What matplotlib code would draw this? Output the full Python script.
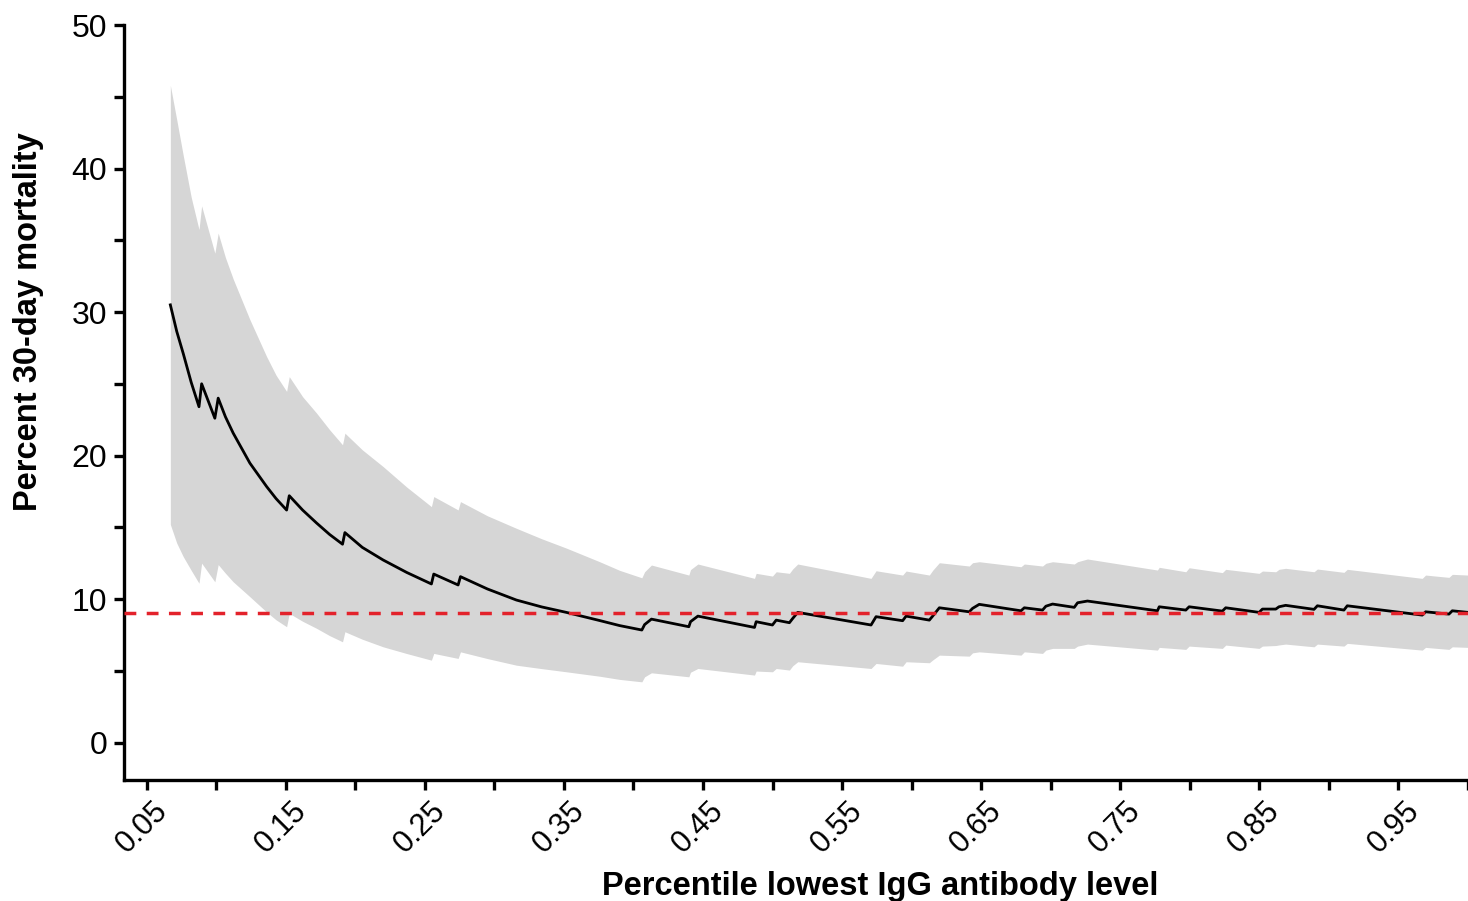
import matplotlib
matplotlib.use('Agg')
import matplotlib.pyplot as plt
import matplotlib.transforms as mtransforms
from matplotlib.ticker import FixedLocator


# ─── Data ─────────────────────────────────────────────────────────────────────
# Cumulative 30-day mortality (%) among patients below a given IgG percentile,
# with the 95% confidence band. Each upward step is a new death entering the group.

pct = [
    0.067, 0.0716, 0.0763, 0.082, 0.0876, 0.0895, 0.099, 0.1014, 0.1066, 0.1122,
    0.1242, 0.1362, 0.143, 0.1506, 0.1525, 0.1621, 0.1721, 0.1815, 0.1908, 0.1925,
    0.205, 0.22, 0.237, 0.2547, 0.2564, 0.2739, 0.2756, 0.295, 0.3158, 0.334,
    0.3517, 0.3757, 0.39, 0.406, 0.408, 0.4129, 0.4398, 0.441, 0.4463, 0.487,
    0.4882, 0.4999, 0.5026, 0.5121, 0.5145, 0.5181, 0.5708, 0.5744, 0.5935, 0.596,
    0.6127, 0.6151, 0.6199, 0.6414, 0.6438, 0.6486, 0.6786, 0.681, 0.6941, 0.6965,
    0.7013, 0.7169, 0.7193, 0.7264, 0.7767, 0.778, 0.7971, 0.7995, 0.8234, 0.8258,
    0.8498, 0.8522, 0.8618, 0.8641, 0.8689, 0.8893, 0.8917, 0.9108, 0.9132, 0.9671,
    0.9695, 0.9863, 0.9887, 1.0,
]

mortality = [
    30.5, 28.65, 27.1, 25.1, 23.4, 25.0, 22.6, 24.0, 22.7, 21.56,
    19.47, 17.84, 17.0, 16.2, 17.2, 16.2, 15.3, 14.5, 13.82, 14.63,
    13.6, 12.72, 11.85, 11.05, 11.74, 10.98, 11.56, 10.7, 9.93, 9.45,
    9.07, 8.5, 8.15, 7.84, 8.22, 8.6, 8.07, 8.42, 8.81, 8.02,
    8.42, 8.19, 8.53, 8.35, 8.65, 9.07, 8.19, 8.77, 8.49, 8.81,
    8.53, 8.81, 9.39, 9.11, 9.35, 9.63, 9.18, 9.39, 9.23, 9.5,
    9.65, 9.42, 9.74, 9.86, 9.18, 9.46, 9.23, 9.46, 9.16, 9.39,
    9.07, 9.3, 9.3, 9.46, 9.56, 9.28, 9.53, 9.23, 9.53, 8.88,
    9.11, 8.95, 9.18, 9.07,
]

ci_low = [
    15.2, 13.9, 12.95, 12.0, 11.1, 12.5, 11.2, 12.4, 11.8, 11.2,
    10.16, 9.1, 8.55, 8.07, 9.0, 8.45, 7.96, 7.45, 7.02, 7.72,
    7.2, 6.67, 6.2, 5.74, 6.21, 5.86, 6.32, 5.85, 5.39, 5.15,
    4.93, 4.62, 4.4, 4.23, 4.58, 4.86, 4.58, 4.9, 5.16, 4.7,
    4.98, 4.93, 5.16, 5.05, 5.35, 5.63, 5.16, 5.51, 5.32, 5.63,
    5.56, 5.75, 6.09, 6.02, 6.25, 6.32, 6.09, 6.32, 6.21, 6.44,
    6.56, 6.56, 6.72, 6.86, 6.44, 6.63, 6.49, 6.72, 6.56, 6.79,
    6.56, 6.72, 6.76, 6.8, 6.86, 6.67, 6.86, 6.72, 6.91, 6.44,
    6.63, 6.49, 6.67, 6.63,
]

ci_high = [
    45.8, 43.4, 40.9, 38.0, 35.75, 37.4, 34.1, 35.5, 33.8, 32.3,
    29.47, 26.9, 25.6, 24.47, 25.5, 24.1, 22.96, 21.8, 20.75, 21.56,
    20.4, 19.23, 17.8, 16.44, 17.14, 16.21, 16.79, 15.8, 14.93, 14.2,
    13.55, 12.6, 12.0, 11.48, 11.9, 12.37, 11.67, 12.05, 12.44, 11.44,
    11.79, 11.6, 11.9, 11.79, 12.1, 12.44, 11.44, 11.97, 11.67, 11.95,
    11.67, 12.0, 12.53, 12.3, 12.53, 12.6, 12.25, 12.44, 12.3, 12.49,
    12.6, 12.44, 12.6, 12.79, 12.02, 12.21, 11.9, 12.18, 11.84, 12.07,
    11.79, 11.95, 11.9, 12.07, 12.14, 11.9, 12.09, 11.86, 12.07, 11.44,
    11.67, 11.51, 11.72, 11.67,
]

overall_mortality = 9.05

x_ticks = [0.05, 0.15, 0.25, 0.35, 0.45, 0.55, 0.65, 0.75, 0.85, 0.95]
x_tick_labels = ['0.05', '0.15', '0.25', '0.35', '0.45', '0.55', '0.65', '0.75', '0.85', '0.95']
x_minor_ticks = [0.10, 0.20, 0.30, 0.40, 0.50, 0.60, 0.70, 0.80, 0.90, 1.00]
y_ticks = [0, 10, 20, 30, 40, 50]
y_minor_ticks = [5, 15, 25, 35, 45]


# ─── Style ────────────────────────────────────────────────────────────────────

plt.rcParams['font.family'] = ['Liberation Sans', 'DejaVu Sans']

BAND_COLOR = '#d6d6d6'
REF_COLOR = '#e3222b'
AXIS_LW = 2.4


def main():
    fig = plt.figure(figsize=(14.68, 9.01), dpi=100)
    ax = fig.add_axes([0.0843, 0.134, 0.9157, 0.8382])

    ax.fill_between(pct, ci_low, ci_high, color=BAND_COLOR, linewidth=0, zorder=1)
    ax.plot(pct, mortality, color='black', linewidth=2.0, zorder=2)
    ax.axhline(overall_mortality, color=REF_COLOR, linewidth=2.5,
               linestyle=(0, (3.4, 3.0)), zorder=3)

    ax.set_xlim(0.0335, 1.0)
    ax.set_ylim(-2.63, 50)

    for side in ('top', 'right'):
        ax.spines[side].set_visible(False)
    for side in ('left', 'bottom'):
        ax.spines[side].set_linewidth(AXIS_LW)

    ax.xaxis.set_major_locator(FixedLocator(x_ticks))
    ax.xaxis.set_minor_locator(FixedLocator(x_minor_ticks))
    ax.set_xticklabels(x_tick_labels)
    ax.yaxis.set_major_locator(FixedLocator(y_ticks))
    ax.yaxis.set_minor_locator(FixedLocator(y_minor_ticks))

    ax.tick_params(which='both', direction='out', length=7, width=AXIS_LW, color='black')
    ax.tick_params(axis='y', labelsize=23, pad=5)
    ax.tick_params(axis='x', labelsize=22, pad=4)

    # rotated x labels, anchored at their upper-right end just under the tick
    shift = mtransforms.ScaledTranslation(4 / 72, 0, fig.dpi_scale_trans)
    for lbl in ax.get_xticklabels():
        lbl.set_rotation(45)
        lbl.set_ha('right')
        lbl.set_va('top')
        lbl.set_rotation_mode('anchor')
        lbl.set_transform(lbl.get_transform() + shift)

    fig.text(880 / 1468, 1 - 886 / 901, 'Percentile lowest IgG antibody level',
             ha='center', va='center', fontsize=23.5, fontweight='bold')
    fig.text(29 / 1468, 1 - 321.5 / 901, 'Percent 30-day mortality',
             ha='center', va='center', rotation=90, fontsize=23.5, fontweight='bold')

    fig.savefig('out.png', dpi=100)


if __name__ == '__main__':
    main()
